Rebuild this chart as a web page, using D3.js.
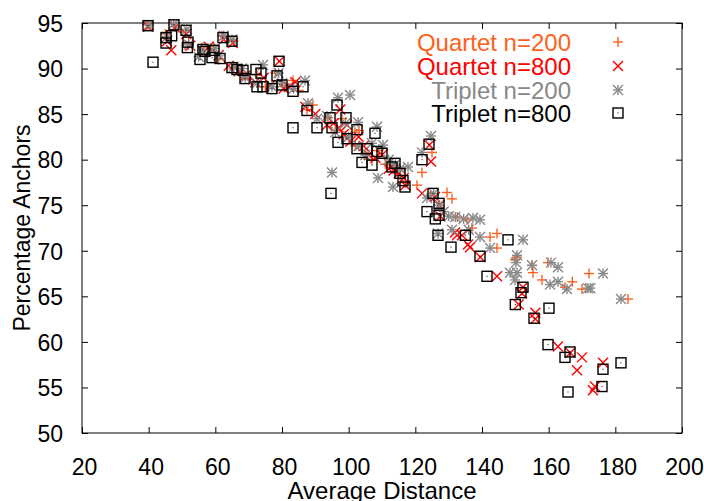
<!DOCTYPE html>
<html>
<head>
<meta charset="utf-8">
<script src="https://cdn.jsdelivr.net/npm/d3@7/dist/d3.min.js"></script>
<style>
  html, body { margin: 0; padding: 0; background: #fff; }
  svg { display: block; font-family: "Liberation Sans", Arial, Helvetica, sans-serif; }
</style>
</head>
<body>
<svg id="chart" width="704" height="501"></svg>
<script>
// Anchor percentage against average distance, four alignment settings.
const xTicks = [20, 40, 60, 80, 100, 120, 140, 160, 180, 200];
const yTicks = [50, 55, 60, 65, 70, 75, 80, 85, 90, 95];

const seriesNames = ["Quartet n=200", "Quartet n=800", "Triplet n=200", "Triplet n=800"];

const quartet200 = [
  [39.5,94.8],[45.0,93.8],[48.0,94.6],[51.0,94.0],[52.0,92.8],[56.0,92.3],[59.5,92.4],[62.0,93.6],
  [61.0,91.0],[65.5,93.0],[65.5,90.0],[68.0,89.6],[70.0,88.8],[72.5,89.3],[75.0,88.0],[78.0,89.5],
  [81.0,88.0],[83.3,88.7],[85.0,87.6],[87.5,85.5],[89.3,86.0],[93.8,84.6],[96.0,83.2],[98.0,84.5],
  [99.0,82.6],[101.9,83.0],[103.1,83.2],[102.0,81.5],[105.0,80.8],[107.0,80.0],[109.0,81.0],[111.0,79.5],
  [113.5,79.2],[115.5,78.3],[117.0,77.5],[122.0,78.6],[120.5,77.2],[125.0,80.8],[124.5,76.0],[129.5,76.4],
  [131.0,75.7],[132.6,73.7],[135.5,73.4],[137.0,72.5],[142.4,71.5],[144.5,71.9],[144.5,70.3],[149.9,69.0],
  [150.5,69.3],[155.0,68.4],[155.3,67.6],[158.0,66.8],[159.8,68.7],[164.9,66.0],[167.1,66.6],[170.0,65.8],
  [172.1,67.5],[183.8,64.7]
];

const quartet800 = [
  [39.8,94.6],[45.5,93.0],[47.8,94.5],[51.3,93.8],[52.5,92.5],[46.8,92.0],[56.5,91.8],[58.0,92.4],
  [61.0,91.5],[62.5,93.2],[65.2,92.8],[64.0,90.3],[67.0,89.7],[69.0,89.2],[72.0,88.5],[74.5,89.0],
  [76.5,88.2],[79.2,90.8],[80.5,87.8],[82.0,88.0],[84.0,88.5],[87.0,85.8],[90.0,85.0],[93.5,83.8],
  [95.5,84.0],[97.5,85.5],[97.0,83.5],[98.5,82.8],[99.5,83.8],[100.5,82.0],[103.0,82.5],[104.5,81.5],
  [106.0,80.5],[108.0,80.2],[110.0,80.5],[112.0,79.0],[113.5,78.8],[115.0,78.5],[116.5,78.0],[117.0,77.2],
  [124.2,81.6],[124.7,79.8],[122.0,76.3],[125.9,75.9],[127.3,75.0],[127.5,73.8],[131.9,72.0],[134.0,71.7],
  [132.5,71.7],[136.4,70.4],[135.8,70.7],[139.5,69.3],[144.5,67.2],[152.3,66.0],[152.0,65.3],[151.0,64.1],
  [156.0,63.2],[156.0,62.5],[162.8,59.5],[166.5,58.8],[170.0,58.3],[168.5,56.9],[176.3,57.7],[173.3,54.7],
  [173.9,55.1]
];

const triplet200 = [
  [40.0,94.8],[45.5,93.5],[47.5,94.9],[51.5,94.3],[52.0,92.6],[56.0,92.0],[55.0,91.3],[59.8,92.2],
  [61.0,91.4],[62.5,93.6],[65.0,93.2],[65.5,90.2],[68.0,90.0],[69.0,89.0],[72.5,88.4],[74.3,90.4],
  [77.0,88.0],[79.0,89.5],[80.0,88.4],[83.5,87.8],[86.9,88.7],[87.8,86.2],[90.5,84.5],[93.5,84.8],
  [95.0,78.6],[96.0,83.0],[96.8,86.8],[100.4,87.1],[99.0,84.0],[100.0,82.5],[102.8,84.1],[103.0,81.5],
  [105.0,80.5],[107.0,81.8],[108.5,83.6],[108.8,78.0],[110.3,81.6],[112.0,80.0],[113.3,77.0],[114.0,79.5],
  [115.4,79.0],[117.8,79.2],[122.0,80.8],[124.7,82.6],[125.5,76.3],[123.5,75.8],[127.0,75.0],[128.5,74.3],
  [130.0,73.8],[132.0,73.7],[134.5,73.5],[137.3,73.6],[139.4,73.4],[131.0,72.3],[136.0,72.3],[126.8,71.9],
  [139.4,71.5],[142.4,70.3],[150.5,69.5],[150.2,68.7],[152.3,71.2],[148.4,67.6],[150.5,67.6],[149.9,66.8],
  [155.0,68.4],[160.7,68.7],[162.8,68.2],[160.4,66.3],[162.8,66.6],[165.5,65.8],[171.8,65.9],[172.5,65.9],
  [176.3,67.5],[181.7,64.7]
];

const triplet800 = [
  [39.8,94.7],[41.3,90.7],[45.2,93.4],[45.2,92.8],[47.6,94.8],[46.9,93.6],[51.2,94.2],[51.8,92.9],
  [51.6,92.3],[56.3,92.1],[56.9,91.9],[55.4,91.0],[59.6,92.0],[59.0,91.2],[61.4,91.1],[62.3,93.4],
  [65.0,93.0],[65.0,90.1],[66.5,89.9],[68.3,89.8],[68.9,88.9],[72.2,89.9],[72.5,88.0],[73.7,89.5],
  [74.3,88.0],[77.0,87.8],[78.5,89.2],[79.1,90.8],[80.0,88.2],[83.3,87.5],[83.3,83.5],[86.3,88.0],
  [87.5,85.4],[90.5,83.5],[94.4,84.6],[95.0,83.5],[96.5,86.0],[96.8,81.9],[99.2,84.6],[99.5,82.3],
  [102.5,83.3],[102.5,81.2],[104.0,79.7],[105.5,81.2],[107.0,79.4],[107.9,82.9],[108.5,80.9],[110.0,80.7],
  [113.0,79.2],[113.9,79.6],[115.4,78.5],[116.3,77.7],[116.9,77.0],[122.0,80.0],[94.7,76.3],[124.1,81.7],
  [125.3,76.3],[127.1,75.2],[123.5,74.3],[127.1,73.9],[126.0,73.5],[135.0,71.7],[126.8,71.7],[130.7,70.4],
  [147.8,71.2],[139.4,69.4],[141.5,67.2],[152.3,66.0],[151.7,65.4],[150.0,64.1],[160.1,63.7],[155.6,62.6],
  [159.8,59.7],[166.4,58.9],[164.9,58.3],[176.3,57.0],[181.7,57.7],[165.8,54.5],[176.0,55.1]
];

const seriesColors = ["#ff6020", "#ff0000", "#888888", "#000000"];
const seriesShapes = ["plus", "cross", "star", "box"];
const seriesData = [quartet200, quartet800, triplet200, triplet800];

const margin = { left: 82, right: 22, top: 23, bottom: 68 };
const width = 704, height = 501;

const svg = d3.select("#chart");

const x = d3.scaleLinear().domain([20, 200]).range([margin.left, width - margin.right]);
const y = d3.scaleLinear().domain([50, 95]).range([height - margin.bottom, margin.top]);

const tickLen = 6;
const tickFont = 23;
const titleFont = 24;

// Axes: ticks pointing inward on all four sides
const gx = svg.append("g")
  .attr("transform", `translate(0,${y(50)})`)
  .call(d3.axisBottom(x).tickValues(xTicks).tickSize(-tickLen).tickFormat(d3.format("d")));
const gy = svg.append("g")
  .attr("transform", `translate(${x(20)},0)`)
  .call(d3.axisLeft(y).tickValues(yTicks).tickSize(-tickLen).tickFormat(d3.format("d")));
const gxt = svg.append("g")
  .attr("transform", `translate(0,${y(95)})`)
  .call(d3.axisTop(x).tickValues(xTicks).tickSize(-tickLen).tickFormat(""));
const gyr = svg.append("g")
  .attr("transform", `translate(${x(200)},0)`)
  .call(d3.axisRight(y).tickValues(yTicks).tickSize(-tickLen).tickFormat(""));

[gx, gy, gxt, gyr].forEach(g => {
  g.select(".domain").remove();
  g.selectAll(".tick line").attr("stroke", "#000").attr("stroke-width", 1);
  g.selectAll(".tick text").attr("font-size", tickFont).attr("fill", "#000")
    .attr("font-family", "'Liberation Sans', Arial, sans-serif");
});
gx.selectAll(".tick text").attr("y", 34).attr("dx", 2).attr("dy", "0.36em");
gy.selectAll(".tick text").attr("x", -19).attr("dy", "0.36em");

// Frame
svg.append("rect")
  .attr("x", x(20)).attr("y", y(95))
  .attr("width", x(200) - x(20)).attr("height", y(50) - y(95))
  .attr("fill", "none").attr("stroke", "#000").attr("stroke-width", 1);

// Axis titles
svg.append("text")
  .attr("x", (x(20) + x(200)) / 2).attr("y", 499)
  .attr("text-anchor", "middle").attr("font-size", titleFont).attr("fill", "#000")
  .text("Average Distance");
svg.append("text")
  .attr("transform", `translate(30,${(y(50) + y(95)) / 2}) rotate(-90)`)
  .attr("text-anchor", "middle").attr("font-size", 23).attr("fill", "#000")
  .text("Percentage Anchors");

// Point glyphs
const r = 5;
function glyph(sel, shape, color) {
  const sw = 1.4;
  if (shape === "plus" || shape === "star") {
    sel.append("line").attr("x1", -r).attr("x2", r).attr("y1", 0).attr("y2", 0);
    sel.append("line").attr("x1", 0).attr("x2", 0).attr("y1", -r).attr("y2", r);
  }
  if (shape === "cross" || shape === "star") {
    sel.append("line").attr("x1", -r).attr("x2", r).attr("y1", -r).attr("y2", r);
    sel.append("line").attr("x1", -r).attr("x2", r).attr("y1", r).attr("y2", -r);
  }
  sel.selectAll("line").attr("stroke", color).attr("stroke-width", sw);
  if (shape === "box") {
    sel.append("rect").attr("x", -5).attr("y", -5).attr("width", 10).attr("height", 10)
      .attr("fill", "none").attr("stroke", color).attr("stroke-width", sw);
    sel.append("rect").attr("x", -0.5).attr("y", -0.5).attr("width", 1).attr("height", 1)
      .attr("fill", color);
  }
}

seriesData.forEach((data, i) => {
  const g = svg.append("g").attr("class", "series");
  g.selectAll("g.pt").data(data).enter().append("g")
    .attr("class", "pt")
    .attr("transform", d => `translate(${x(d[0])},${y(d[1])})`)
    .each(function () { glyph(d3.select(this), seriesShapes[i], seriesColors[i]); });
});

// Legend
const legend = svg.append("g");
const legendRows = [42, 66, 90, 113];
seriesNames.forEach((name, i) => {
  legend.append("text")
    .attr("x", 571).attr("y", legendRows[i]).attr("dy", "0.36em")
    .attr("text-anchor", "end").attr("font-size", titleFont)
    .attr("fill", seriesColors[i]).text(name);
  const m = legend.append("g").attr("transform", `translate(618,${legendRows[i]})`);
  glyph(m, seriesShapes[i], seriesColors[i]);
});
</script>
</body>
</html>
